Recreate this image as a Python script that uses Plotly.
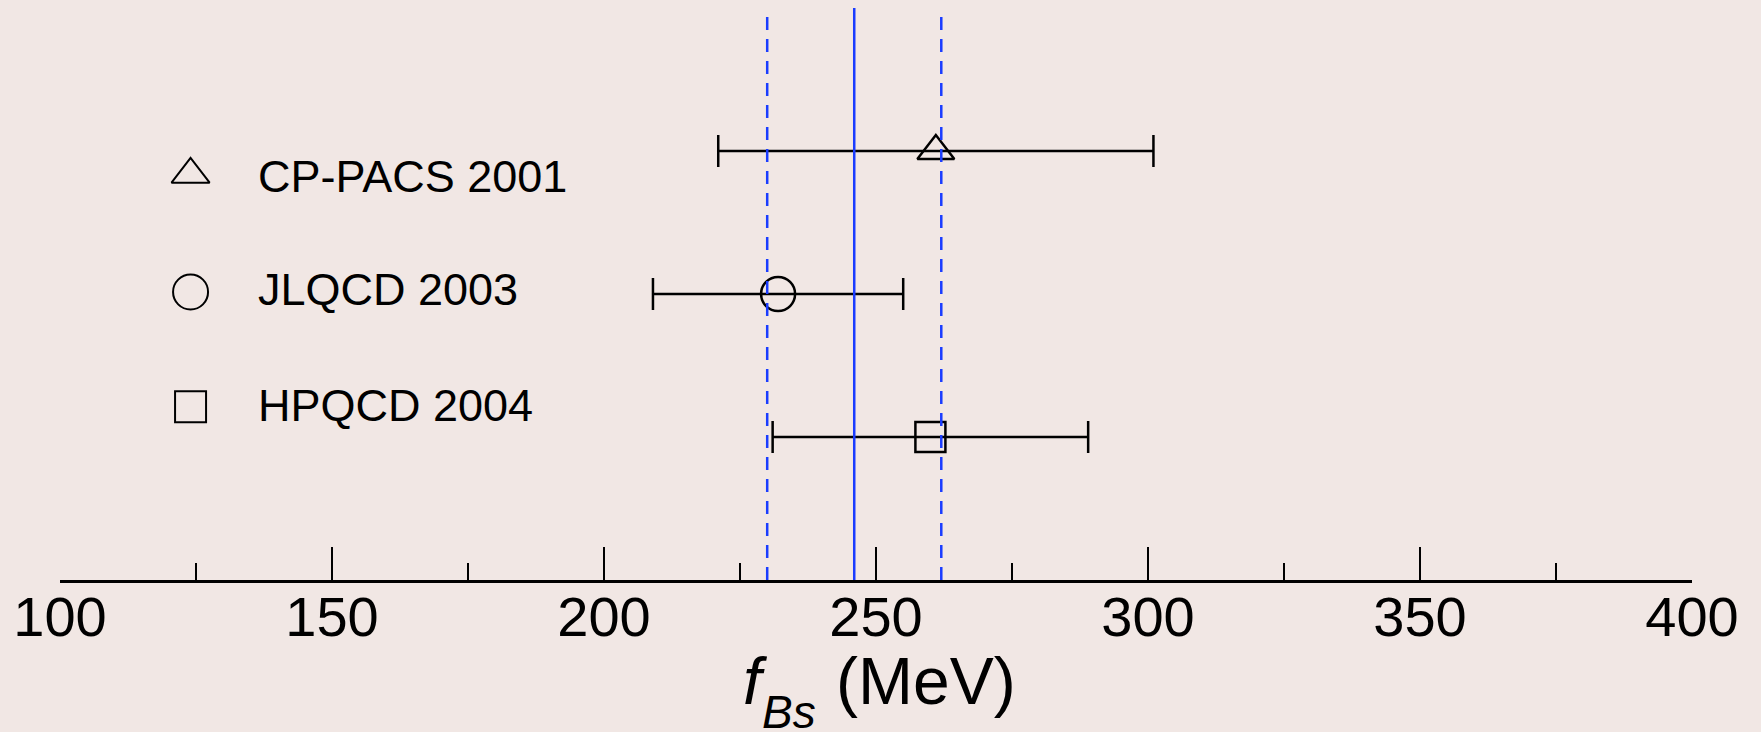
import plotly.graph_objects as go

# ---- data ----
groups = ["CP-PACS 2001", "JLQCD 2003", "HPQCD 2004"]
fbs_values = [261, 232, 260]
fbs_errors = [40, 23, 29]
symbols = ["triangle-up-open", "circle-open", "square-open"]
row_positions = [3, 2, 1]
average_value = 246
average_error = 16
x_tick_values = [100, 150, 200, 250, 300, 350, 400]
x_tick_labels = ["100", "150", "200", "250", "300", "350", "400"]
x_minor_tick_values = [125, 175, 225, 275, 325, 375]
x_title_parts = ["<i>f</i>", "<i>Bs</i>", "(MeV)"]

# ---- layout constants ----
FONT = "Liberation Sans, Arial, Helvetica, sans-serif"
BG = "#F1E7E4"
BLUE = "#1a3cff"
marker_sizes = [32, 34, 30]
legend_marker_x = 124.0
legend_marker_y = [2.836, 2.014, 1.212]
legend_text_x = 136.0
legend_text_y = [2.82, 2.035, 1.217]
title_part_x = [0.4175, 0.4290, 0.4745]
title_part_y = [-0.108, -0.182, -0.108]
title_part_size = [66, 46, 66]

fig = go.Figure()

for name, val, err, sym, row, msz in zip(groups, fbs_values, fbs_errors, symbols, row_positions, marker_sizes):
    fig.add_trace(go.Scatter(
        x=[val], y=[row], mode="markers", name=name, showlegend=False,
        error_x=dict(type="data", array=[err], symmetric=True, color="black",
                     thickness=2.5, width=16),
        marker=dict(symbol=sym, size=msz, color="black", line=dict(width=2.5, color="black")),
        hoverinfo="skip",
    ))

# legend-like key drawn manually
for name, sym, ly, ty, msz in zip(groups, symbols, legend_marker_y, legend_text_y, marker_sizes):
    fig.add_trace(go.Scatter(
        x=[legend_marker_x], y=[ly], mode="markers", showlegend=False, hoverinfo="skip",
        marker=dict(symbol=sym, size=msz + 1, color="black", line=dict(width=2, color="black")),
    ))
    fig.add_annotation(x=legend_text_x, y=ty, xref="x", yref="y", text=name, showarrow=False,
                       xanchor="left", yanchor="middle",
                       font=dict(family=FONT, size=45, color="black"))

# axis title (f, subscript Bs, unit) placed as annotations
for txt, tx, ty, fs in zip(x_title_parts, title_part_x, title_part_y, title_part_size):
    fig.add_annotation(x=tx, y=ty, xref="paper", yref="paper", text=txt,
                       showarrow=False, xanchor="left", yanchor="top",
                       font=dict(family=FONT, size=fs, color="black"))

# average band lines
fig.add_shape(type="line", xref="x", yref="paper", x0=average_value, x1=average_value,
              y0=0, y1=1, line=dict(color=BLUE, width=2.5), layer="above")
for v in [average_value - average_error, average_value + average_error]:
    fig.add_shape(type="line", xref="x", yref="paper", x0=v, x1=v, y0=0, y1=0.997,
                  line=dict(color=BLUE, width=2.5, dash="13px,9px"), layer="above")

fig.update_layout(
    width=1761, height=732,
    margin=dict(l=60, r=69, t=8, b=152),
    paper_bgcolor=BG, plot_bgcolor=BG,
    font=dict(family=FONT, color="black"),
    xaxis=dict(
        range=[100, 400], tickmode="array", tickvals=x_tick_values, ticktext=x_tick_labels,
        ticks="inside", ticklen=33, tickwidth=2, tickcolor="black",
        ticklabelstandoff=-14,
        showline=True, linewidth=2.5, linecolor="black",
        showgrid=False, zeroline=False,
        tickfont=dict(family=FONT, size=56, color="black"),
        minor=dict(ticks="inside", ticklen=17, tickwidth=2, tickcolor="black",
                   tickmode="array", tickvals=x_minor_tick_values, showgrid=False),
    ),
    yaxis=dict(range=[0, 4], visible=False, showgrid=False, zeroline=False),
)

fig.write_html("out.html")
